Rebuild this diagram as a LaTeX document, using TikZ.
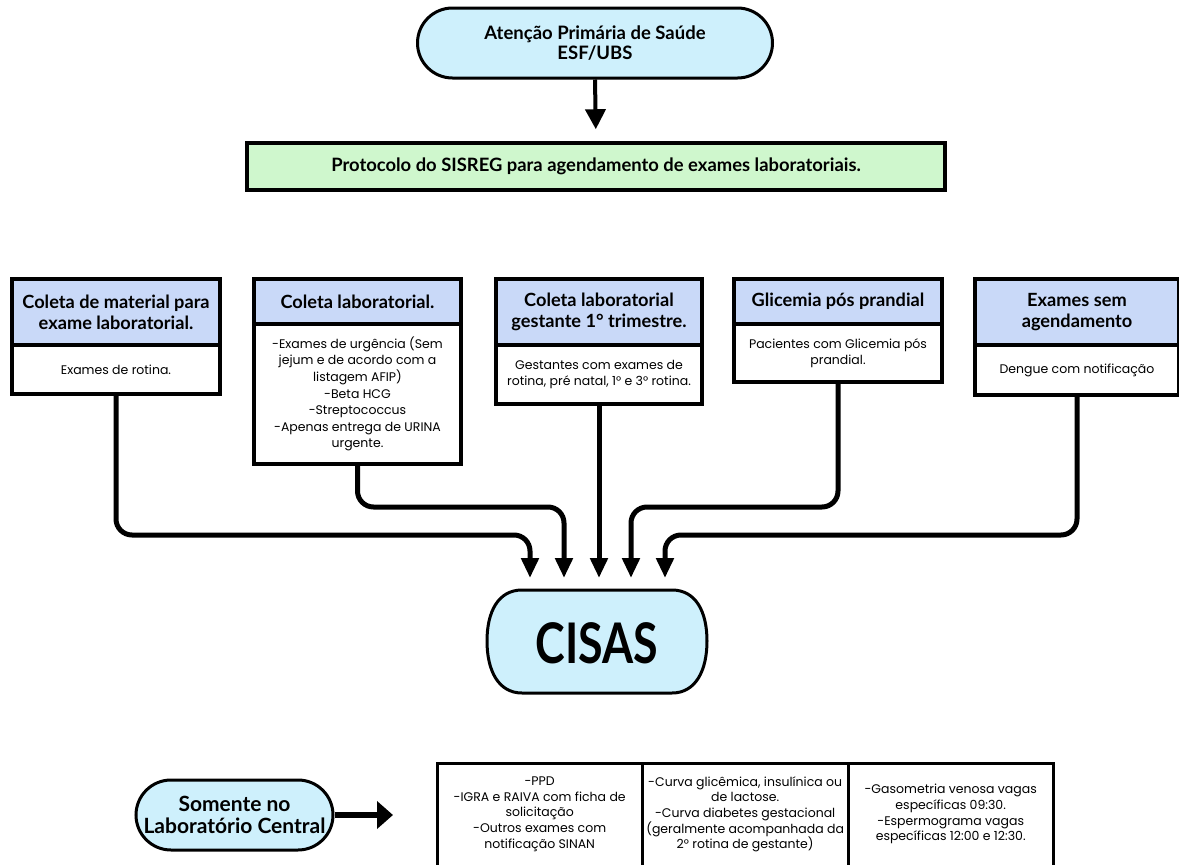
\documentclass[tikz,border=0pt]{standalone}
\usepackage{fontspec}
\usepackage{graphicx}
\setmainfont{Poppins}
\newfontfamily\hfont{Lato}
\usetikzlibrary{arrows.meta}
\definecolor{stad}{RGB}{206,240,252}
\definecolor{hdrc}{RGB}{201,217,248}
\definecolor{grn}{RGB}{207,247,205}
\begin{document}
\begin{tikzpicture}[x=1pt,y=-1pt,
  hdr/.style={draw, line width=4pt, fill=hdrc, anchor=north west, align=center,
    font=\hfont\bfseries\fontsize{18.2}{21}\selectfont, inner sep=0pt},
  bod/.style={draw, line width=4pt, fill=white, anchor=north west, align=center,
    font=\fontsize{12.5}{16.6}\selectfont, inner sep=0pt},
  stadium/.style={draw, line width=3pt, fill=stad, rounded corners=35pt, align=center,
    font=\hfont\bfseries\fontsize{21}{22}\selectfont, inner sep=0pt},
  conn/.style={line width=5pt, rounded corners=16pt, -{Triangle[length=20pt,width=17pt]}},
  cell/.style={anchor=north west, align=center, inner sep=0pt,
    font=\fontsize{12.5}{15.7}\selectfont},
  tbl/.style={line width=3pt}]
\useasboundingbox (0,0) rectangle (1179,865);
\fill[white] (0,0) rectangle (1179,865);

% top
\node[stadium, minimum width=355pt, minimum height=70pt, font=\hfont\bfseries\fontsize{18.5}{20}\selectfont] (top) at (595,43) {Atenção Primária de Saúde\\ESF/UBS};
\node[draw, line width=3.5pt, fill=grn, minimum width=698pt, minimum height=47pt, inner sep=0pt,
  font=\hfont\bfseries\fontsize{18.4}{20}\selectfont] (prot) at (596,166.5) {Protocolo do SISREG para agendamento de exames laboratoriais.};
\draw[line width=4pt, -{Triangle[length=20pt,width=20pt]}, shorten >=12pt] (top.south) -- (prot.north);

% five boxes
\node[hdr, minimum width=208pt, minimum height=66pt] (h1) at (10,277) {Coleta de material para\\exame laboratorial.};
\node[bod, minimum width=208pt, minimum height=49pt] (b1) at (10,343) {Exames de rotina.};

\node[hdr, minimum width=207pt, minimum height=45pt] (h2) at (252,277) {Coleta laboratorial.};
\node[bod, minimum width=207pt, minimum height=140pt] (b2) at (252,322) {-Exames de urgência (Sem\\jejum e de acordo com a\\listagem AFIP)\\-Beta HCG\\-Streptococcus\\-Apenas entrega de URINA\\urgente.};

\node[hdr, minimum width=206pt, minimum height=66pt] (h3) at (494,277) {Coleta laboratorial\\gestante 1° trimestre.};
\node[bod, minimum width=206pt, minimum height=59pt] (b3) at (494,343) {Gestantes com exames de\\rotina, pré natal, 1° e 3° rotina.};

\node[hdr, minimum width=208pt, minimum height=45pt] (h4) at (732,277) {Glicemia pós prandial};
\node[bod, minimum width=208pt, minimum height=58pt] (b4) at (732,322) {Pacientes com Glicemia pós\\prandial.};

\node[hdr, minimum width=204pt, minimum height=66pt] (h5) at (973,277) {Exames sem\\agendamento};
\node[bod, minimum width=204pt, minimum height=50pt] (b5) at (973,343) {Dengue com notificação};

% CISAS
\draw[line width=3pt, fill=stad] (522,590) -- (672,590)
  .. controls (696,590) and (707,612) .. (707,641)
  .. controls (707,670) and (696,693) .. (672,693)
  -- (522,693)
  .. controls (498,693) and (487,670) .. (487,641)
  .. controls (487,612) and (498,590) .. (522,590) -- cycle;
\node[inner sep=0pt, font=\hfont\bfseries\fontsize{56}{60}\selectfont] (cisas) at (597,643) {\scalebox{0.8}[1]{CISAS}};

\coordinate (e1) at (530,578);
\coordinate (e2) at (564,578);
\coordinate (e3) at (597,578);
\coordinate (e4) at (631,578);
\coordinate (e5) at (665,578);

\draw[conn] (b1.south) |- (530,535) -- (e1);
\draw[conn] (b2.south) |- (564,507) -- (e2);
\draw[conn] (b3.south) -- (b3.south |- e3);
\draw[conn] (b4.south) |- (631,507) -- (e4);
\draw[conn] (b5.south) |- (665,535) -- (e5);

% bottom
\node[stadium, minimum width=197pt, minimum height=70pt] (som) at (234.5,815) {Somente no\\Laboratório Central};

\node[cell, minimum width=205pt, minimum height=102pt] (c1) at (437,763) {-PPD\\-IGRA e RAIVA com ficha de\\solicitação\\-Outros exames com\\notificação SINAN};
\node[cell, minimum width=206pt, minimum height=102pt] (c2) at (642,763) {-Curva glicêmica, insulínica ou\\de lactose.\\-Curva diabetes gestacional\\(geralmente acompanhada da\\2° rotina de gestante)};
\node[cell, minimum width=205pt, minimum height=102pt] (c3) at (848,763) {-Gasometria venosa vagas\\específicas 09:30.\\-Espermograma vagas\\específicas 12:00 e 12:30.};

\draw[tbl] (c1.south west) -- (c1.north west) -- (c3.north east) -- (c3.south east);
\draw[tbl] (c1.north east) -- (c1.south east);
\draw[tbl] (c2.north east) -- (c2.south east);

\draw[line width=6pt, -{Triangle[length=16pt,width=27pt]}, shorten >=44pt] (som.east) -- (som.east -| c1.west);
\end{tikzpicture}
\end{document}
